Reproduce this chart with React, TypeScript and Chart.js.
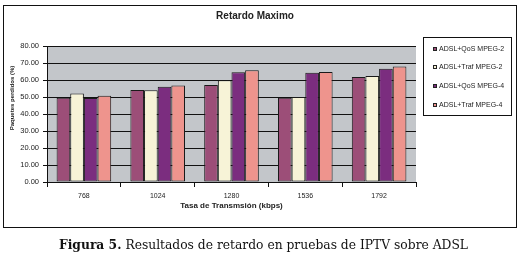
import React, { useEffect, useRef } from "react";
import { Chart, registerables } from "chart.js";

Chart.register(...registerables);

const categories = ["768", "1024", "1280", "1536", "1792"];
const seriesLabels = ["ADSL+QoS MPEG-2", "ADSL+Traf MPEG-2", "ADSL+QoS MPEG-4", "ADSL+Traf MPEG-4"];
const qosMpeg2 = [49.6, 54.1, 57.1, 49.6, 61.7];
const trafMpeg2 = [52.0, 53.9, 59.8, 50.0, 62.4];
const qosMpeg4 = [49.4, 56.1, 64.5, 64.2, 66.6];
const trafMpeg4 = [50.8, 56.7, 65.7, 64.7, 67.9];
const seriesColors = ["#9C4E78", "#F7F3D7", "#7B2D7F", "#EE948D"];

const chartTitle = "Retardo Maximo";
const xTitle = "Tasa de Transmsión (kbps)";
const yTitle = "Paquetes perdidos (%)";
const captionBold = "Figura 5.";
const captionRest = " Resultados de retardo en pruebas de IPTV sobre ADSL";

const FONT = "'Liberation Sans', Arial, sans-serif";

const decorPlugin = {
  id: "decor",
  beforeDraw(chart: any) {
    const { ctx, chartArea } = chart;
    ctx.save();
    ctx.fillStyle = "#C3C6CA";
    ctx.fillRect(chartArea.left, chartArea.top, chartArea.right - chartArea.left, chartArea.bottom - chartArea.top);
    ctx.restore();
  },
  afterDraw(chart: any) {
    const { ctx, chartArea } = chart;
    ctx.save();
    // outer frame
    ctx.strokeStyle = "#111";
    ctx.lineWidth = 1;
    ctx.strokeRect(3.5, 5.5, 513, 222);
    // y axis title
    ctx.fillStyle = "#222";
    ctx.font = `bold 6px ${FONT}`;
    ctx.textAlign = "center";
    ctx.textBaseline = "middle";
    ctx.translate(12, 98);
    ctx.rotate(-Math.PI / 2);
    ctx.fillText(yTitle, 0, 0);
    ctx.restore();

    // legend
    ctx.save();
    const bx = Math.round(chartArea.right) + 7.5;
    ctx.strokeStyle = "#111";
    ctx.lineWidth = 1;
    ctx.strokeRect(bx, 37.5, 88, 78);
    ctx.font = `7px ${FONT}`;
    ctx.textAlign = "left";
    ctx.textBaseline = "middle";
    chart.data.datasets.forEach((ds: any, i: number) => {
      const cy = 48.7 + i * 18.7;
      ctx.fillStyle = ds.backgroundColor;
      ctx.fillRect(bx + 10, Math.round(cy) - 1.5, 3, 3);
      ctx.strokeStyle = "#222";
      ctx.strokeRect(bx + 10, Math.round(cy) - 1.5, 3, 3);
      ctx.fillStyle = "#222";
      ctx.fillText(ds.label, bx + 15.5, cy);
    });
    ctx.restore();
  },
};

export default function App() {
  const ref = useRef<HTMLCanvasElement | null>(null);
  useEffect(() => {
    if (!ref.current) return;
    const values = [qosMpeg2, trafMpeg2, qosMpeg4, trafMpeg4];
    const chart = new Chart(ref.current, {
      type: "bar",
      data: {
        labels: categories,
        datasets: values.map((v, i) => ({
          label: seriesLabels[i],
          data: v,
          backgroundColor: seriesColors[i],
          borderColor: "#1a1a1a",
          borderWidth: 1,
          borderSkipped: false,
          categoryPercentage: 0.74,
          barPercentage: 1,
        })),
      },
      options: {
        responsive: false,
        animation: false,
        devicePixelRatio: 1,
        layout: { padding: { left: 0, right: 13, top: 0, bottom: 36 } },
        plugins: {
          legend: { display: false },
          tooltip: { enabled: false },
          title: {
            display: true,
            text: chartTitle,
            color: "#222",
            font: { family: FONT, size: 10, weight: "bold" },
            padding: { top: 10, bottom: 24 },
          },
        },
        scales: {
          x: {
            grid: { drawOnChartArea: false, drawTicks: true, tickLength: 5, color: "#111", offset: true },
            border: { display: true, color: "#111" },
            ticks: { color: "#222", padding: 5, font: { family: FONT, size: 7 }, maxRotation: 0 },
            title: {
              display: true,
              text: xTitle,
              color: "#222",
              font: { family: FONT, size: 8, weight: "bold" },
              padding: { top: 0, bottom: 16 },
            },
            afterFit(s: any) {
              s.height = 45;
            },
          },
          y: {
            min: 0,
            max: 80,
            ticks: {
              stepSize: 10,
              color: "#222",
              padding: 4,
              font: { family: FONT, size: 7.5 },
              callback: (v: any) => Number(v).toFixed(2),
            },
            grid: { color: "#111", tickLength: 4, drawTicks: true },
            border: { display: true, color: "#111" },
            afterFit(s: any) {
              s.width = 47;
            },
          },
          y2: {
            axis: "y",
            position: "right",
            display: true,
            grid: { display: false, drawTicks: false },
            ticks: { display: false },
            border: { display: false },
            afterFit(s: any) {
              s.width = 94;
            },
          },
        },
      } as any,
      plugins: [decorPlugin],
    });
    return () => chart.destroy();
  }, []);

  return (
    <div style={{ position: "absolute", left: 0, top: 0, width: 523, height: 263, background: "#fff" }}>
      <canvas ref={ref} width={523} height={263} style={{ width: 523, height: 263, display: "block" }} />
      <div
        style={{
          position: "absolute",
          left: 4,
          top: 237,
          width: 519,
          textAlign: "center",
          fontFamily: "'DejaVu Serif', serif",
          fontSize: 12.3,
          lineHeight: "15px",
          color: "#111",
          whiteSpace: "nowrap",
        }}
      >
        <b>{captionBold}</b>
        {captionRest}
      </div>
    </div>
  );
}
